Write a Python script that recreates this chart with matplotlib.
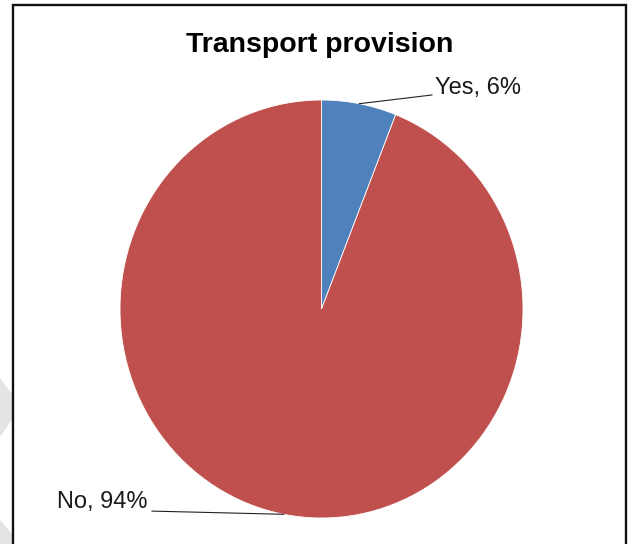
import numpy as np
import matplotlib
matplotlib.use("Agg")
import matplotlib.pyplot as plt
from matplotlib.patches import Rectangle, Polygon

plt.rcParams['font.family'] = ['Liberation Sans', 'DejaVu Sans']

# data
title = "Transport provision"
labels = ["Yes", "No"]
shares = [6, 94]
colors = ["#4F81BD", "#C0504D"]

W, H = 632, 544
fig = plt.figure(figsize=(W / 100, H / 100), dpi=100)

def fx(px):
    return px / W

def fy(py):
    return 1 - py / H

# pie area (slightly oval in the picture)
ax = fig.add_axes([fx(120), fy(518), (523 - 120) / W, (518 - 100) / H])
wedges, _ = ax.pie(shares, colors=colors, startangle=90, counterclock=False,
                   wedgeprops=dict(edgecolor="white", linewidth=0.6))
ax.set_aspect('auto')
ax.set_xlim(-1, 1)
ax.set_ylim(-1, 1)
ax.axis('off')

# labels with leader lines: (elbow point, text anchor, ha)
lead = {
    "Yes": ((0.548, 1.024), (0.563, 1.057), "left"),
    "No": ((-0.841, -0.967), (-0.866, -0.923), "right"),
}
for w, lab, val in zip(wedges, labels, shares):
    mid = np.deg2rad((w.theta1 + w.theta2) / 2)
    sx, sy = np.cos(mid), np.sin(mid)
    (ex, ey), (tx, ty), ha = lead[lab]
    ax.plot([sx, ex], [sy, ey], color="#222222", lw=0.8, clip_on=False)
    ax.text(tx, ty, f"{lab}, {val}%", ha=ha, va="center", fontsize=17,
            color="#1a1a1a")

fig.text(fx(320), fy(52), title, ha="center", va="baseline",
         fontsize=20.5, fontweight="bold", color="black")

# chart border
fig.add_artist(Rectangle((fx(13), fy(560)), fx(626) - fx(13), fy(5) - fy(560),
                         transform=fig.transFigure, fill=False,
                         edgecolor="#111111", lw=1.7))

# faint grey shapes at left edge
for pts in ([(0, 378), (12, 394), (12, 420), (0, 437)],
            [(0, 520), (12, 534), (12, 544), (0, 544)]):
    fig.add_artist(Polygon([(fx(x), fy(y)) for x, y in pts],
                           transform=fig.transFigure, closed=True,
                           facecolor="#e4e4e4", edgecolor="none", zorder=0))

fig.savefig("out.png", dpi=100)
